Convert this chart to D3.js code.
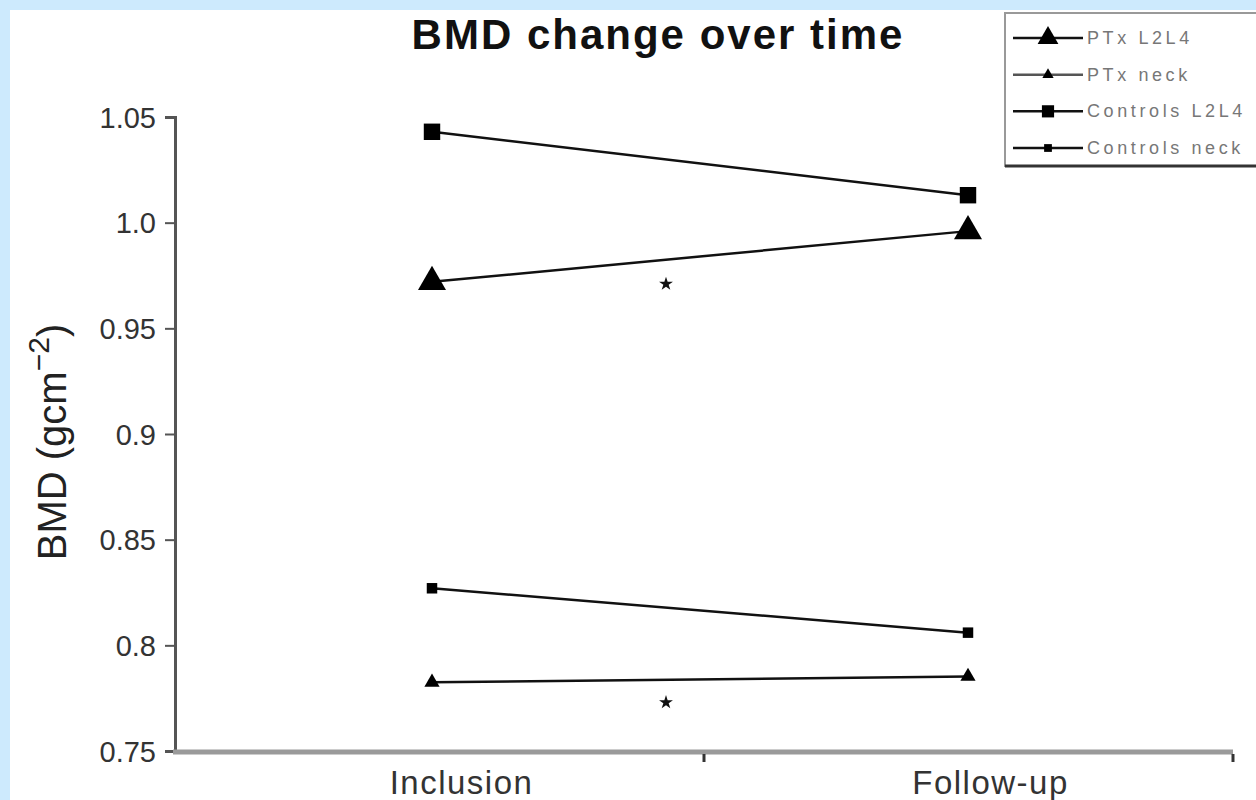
<!DOCTYPE html>
<html>
<head>
	<title>BMD change over time</title>
	<script src="https://d3js.org/d3.v7.min.js"></script>
	<style>
		body { margin: 0; background: #cdeafd; }
		text { font-family: Arial, "Liberation Sans", sans-serif; }
		.tick text { fill: #333; font-size: 29px; }
	</style>
</head>
<body>
<svg id="main" width="1256" height="800"></svg>
<script>

	// categories and tick values
	var timepoints = ['Inclusion', 'Follow-up'];
	var yTicks = [0.75, 0.8, 0.85, 0.9, 0.95, 1.0, 1.05];
	var yTickLabels = ['0.75', '0.8', '0.85', '0.9', '0.95', '1.0', '1.05'];

	// series values (BMD, g/cm2) at inclusion and follow-up
	var seriesNames = ['PTx L2L4', 'PTx neck', 'Controls L2L4', 'Controls neck'];
	var ptxL2L4 = [0.972, 0.996];
	var ptxNeck = [0.7825, 0.7853];
	var controlsL2L4 = [1.043, 1.013];
	var controlsNeck = [0.827, 0.806];

	// significance stars (value where the star sits)
	var starValues = [0.971, 0.773];

	var svg = d3.select('#main');

	svg.append('rect')
		.attr('x', 10).attr('y', 10)
		.attr('width', 1246).attr('height', 790)
		.attr('fill', 'white');

	var y = d3.scaleLinear().domain([0.75, 1.05]).range([751, 117]);
	var xBand = d3.scaleBand().domain(timepoints).range([175, 1233]);
	var xPt = d3.scalePoint().domain(timepoints).range([432, 968]);

	// y axis
	var yAxis = d3.axisLeft(y)
		.tickValues(yTicks)
		.tickSize(10)
		.tickPadding(8)
		.tickFormat(function(d, i) { return yTickLabels[i]; });

	var gy = svg.append('g')
		.attr('transform', 'translate(175,0)')
		.call(yAxis);
	gy.select('.domain').attr('stroke', '#555').attr('stroke-width', 3);
	gy.selectAll('.tick line').attr('stroke', '#555').attr('stroke-width', 2);
	gy.selectAll('.tick text').attr('dy', '0.35em').attr('dx', '-1');

	// x axis
	var gx = svg.append('g')
		.attr('transform', 'translate(0,752)');
	gx.append('line')
		.attr('x1', 173).attr('x2', 1233)
		.attr('stroke', '#9a9a9a').attr('stroke-width', 5);
	gx.selectAll('.xtick')
		.data(timepoints)
		.enter().append('line')
		.attr('x1', function(d) { return xBand(d) + xBand.bandwidth(); })
		.attr('x2', function(d) { return xBand(d) + xBand.bandwidth(); })
		.attr('y1', 2).attr('y2', 10)
		.attr('stroke', '#333').attr('stroke-width', 3);
	gx.selectAll('.xlabel')
		.data(timepoints)
		.enter().append('text')
		.attr('x', function(d) { return xBand(d) + xBand.bandwidth() / 2 + 22; })
		.attr('y', 42)
		.attr('text-anchor', 'middle')
		.attr('font-size', 33)
		.attr('letter-spacing', 1.5)
		.attr('fill', '#333')
		.text(function(d) { return d; });

	// title
	svg.append('text')
		.attr('x', 658).attr('y', 49)
		.attr('text-anchor', 'middle')
		.attr('font-size', 42)
		.attr('font-weight', 'bold')
		.attr('letter-spacing', 2)
		.attr('fill', '#111')
		.text('BMD change over time');

	// y label
	var ylab = svg.append('text')
		.attr('transform', 'translate(66,442) rotate(-90)')
		.attr('text-anchor', 'middle')
		.attr('font-size', 40)
		.attr('fill', '#222');
	ylab.append('tspan').text('BMD (gcm');
	ylab.append('tspan').attr('dy', -17).attr('font-size', 30).text('\u22122');
	ylab.append('tspan').attr('dy', 17).text(')');

	var series = [
		{ name: seriesNames[0], values: ptxL2L4, shape: d3.symbolTriangle, size: 340 },
		{ name: seriesNames[1], values: ptxNeck, shape: d3.symbolTriangle, size: 100 },
		{ name: seriesNames[2], values: controlsL2L4, shape: d3.symbolSquare, size: 270 },
		{ name: seriesNames[3], values: controlsNeck, shape: d3.symbolSquare, size: 110 }
	];

	var line = d3.line()
		.x(function(d, i) { return xPt(timepoints[i]); })
		.y(function(d) { return y(d); });

	var groups = svg.selectAll('.series')
		.data(series)
		.enter().append('g');

	groups.append('path')
		.attr('d', function(s) { return line(s.values); })
		.attr('fill', 'none')
		.attr('stroke', '#111')
		.attr('stroke-width', 2.5);

	groups.each(function(s) {
		d3.select(this).selectAll('path.pt')
			.data(s.values)
			.enter().append('path')
			.attr('class', 'pt')
			.attr('d', d3.symbol().type(s.shape).size(s.size))
			.attr('transform', function(d, i) {
				return 'translate(' + xPt(timepoints[i]) + ',' + y(d) + ')';
			})
			.attr('fill', '#000');
	});

	// stars
	var starX = (xPt(timepoints[0]) + xPt(timepoints[1])) / 2 - 34;
	svg.selectAll('.star')
		.data(starValues)
		.enter().append('path')
		.attr('d', d3.symbol().type(d3.symbolStar).size(60))
		.attr('transform', function(d) { return 'translate(' + starX + ',' + y(d) + ')'; })
		.attr('fill', '#111');

	// legend
	var legend = svg.append('g').attr('transform', 'translate(1005,13)');
	legend.append('rect')
		.attr('x', 0).attr('y', 0)
		.attr('width', 260).attr('height', 153)
		.attr('fill', 'white')
		.attr('stroke', '#999').attr('stroke-width', 2);
	legend.append('line')
		.attr('x1', 0).attr('x2', 260).attr('y1', 153).attr('y2', 153)
		.attr('stroke', '#333').attr('stroke-width', 3);

	var rowY = d3.scalePoint().domain(seriesNames).range([25, 135]);
	var items = legend.selectAll('.item')
		.data(series)
		.enter().append('g')
		.attr('transform', function(s) { return 'translate(0,' + rowY(s.name) + ')'; });
	items.append('line')
		.attr('x1', 8).attr('x2', 78)
		.attr('stroke', function(s, i) { return i == 1 ? '#555' : '#111'; })
		.attr('stroke-width', 2.5);
	items.append('path')
		.attr('d', function(s) { return d3.symbol().type(s.shape).size(s.size * 0.55)(); })
		.attr('transform', 'translate(43,0)')
		.attr('fill', '#000');
	items.append('text')
		.attr('x', 82).attr('y', 6)
		.attr('font-size', 18)
		.attr('letter-spacing', 3.6)
		.attr('fill', '#777')
		.text(function(s) { return s.name; });

</script>
</body>
</html>
